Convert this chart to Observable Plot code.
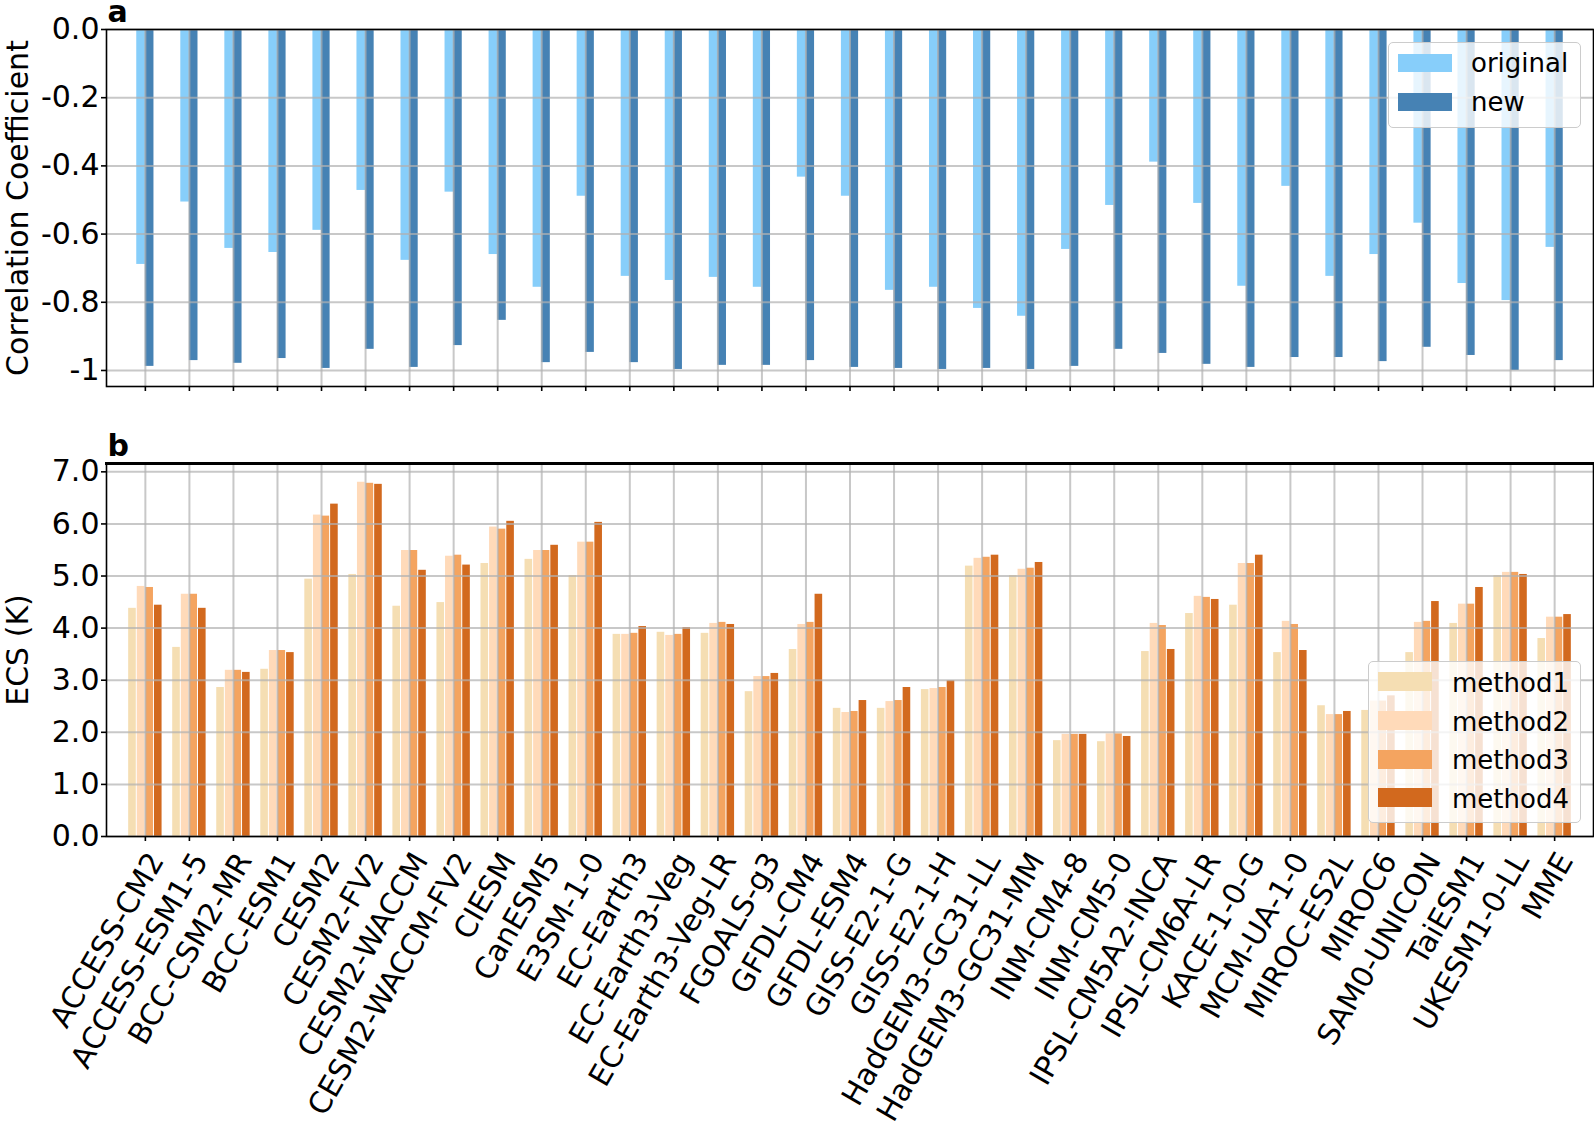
<!DOCTYPE html>
<html>
<head>
<meta charset="utf-8">
<script src="https://cdn.jsdelivr.net/npm/d3@7"></script>
<script src="https://cdn.jsdelivr.net/npm/@observablehq/plot@0.6"></script>
<style>
  html, body { margin: 0; padding: 0; background: #ffffff; }
  #wrap { position: relative; width: 1594px; height: 1128px; overflow: hidden; font-family: "DejaVu Sans", sans-serif; }
  #wrap svg { position: absolute; left: 0; }
  .legend { position: absolute; background: rgba(255,255,255,0.8); border: 1.5px solid #cccccc; border-radius: 5px; box-sizing: border-box; }
  .sw { position: absolute; }
  .lt { position: absolute; font-size: 26px; line-height: 26px; color: #000; white-space: nowrap; }
</style>
</head>
<body>
<div id="wrap"></div>
<script>
// ---------- data ----------
const models = ["ACCESS-CM2","ACCESS-ESM1-5","BCC-CSM2-MR","BCC-ESM1","CESM2","CESM2-FV2","CESM2-WACCM","CESM2-WACCM-FV2","CIESM","CanESM5","E3SM-1-0","EC-Earth3","EC-Earth3-Veg","EC-Earth3-Veg-LR","FGOALS-g3","GFDL-CM4","GFDL-ESM4","GISS-E2-1-G","GISS-E2-1-H","HadGEM3-GC31-LL","HadGEM3-GC31-MM","INM-CM4-8","INM-CM5-0","IPSL-CM5A2-INCA","IPSL-CM6A-LR","KACE-1-0-G","MCM-UA-1-0","MIROC-ES2L","MIROC6","SAM0-UNICON","TaiESM1","UKESM1-0-LL","MME"];

const corrOriginal = [-0.689,-0.506,-0.642,-0.654,-0.589,-0.472,-0.677,-0.477,-0.660,-0.756,-0.489,-0.724,-0.736,-0.727,-0.756,-0.433,-0.489,-0.765,-0.756,-0.818,-0.841,-0.645,-0.516,-0.389,-0.510,-0.753,-0.460,-0.724,-0.660,-0.568,-0.745,-0.795,-0.639];
const corrNew = [-0.988,-0.971,-0.979,-0.965,-0.994,-0.938,-0.991,-0.927,-0.853,-0.977,-0.947,-0.977,-0.997,-0.985,-0.985,-0.971,-0.991,-0.994,-0.997,-0.994,-0.997,-0.988,-0.938,-0.950,-0.982,-0.991,-0.962,-0.962,-0.974,-0.932,-0.956,-1.000,-0.971];

const ecsMethod1 = [4.38,3.63,2.86,3.21,4.94,5.03,4.42,4.49,5.24,5.32,5.01,3.88,3.92,3.90,2.78,3.59,2.46,2.46,2.82,5.19,5.01,1.84,1.82,3.55,4.28,4.44,3.53,2.51,2.42,3.53,4.09,5.01,3.80];
const ecsMethod2 = [4.80,4.65,3.19,3.57,6.17,6.80,5.49,5.38,5.94,5.49,5.65,3.88,3.86,4.09,3.07,4.07,2.38,2.59,2.84,5.34,5.13,1.96,1.97,4.09,4.61,5.24,4.13,2.34,2.60,4.11,4.46,5.07,4.21];
const ecsMethod3 = [4.78,4.65,3.19,3.57,6.15,6.78,5.49,5.40,5.90,5.49,5.65,3.90,3.88,4.11,3.07,4.11,2.40,2.61,2.86,5.36,5.15,1.96,1.97,4.05,4.59,5.24,4.07,2.34,2.60,4.13,4.46,5.07,4.21];
const ecsMethod4 = [4.44,4.38,3.15,3.53,6.38,6.76,5.11,5.21,6.05,5.59,6.03,4.03,4.01,4.07,3.13,4.65,2.61,2.86,2.99,5.40,5.26,1.96,1.92,3.59,4.55,5.40,3.57,2.40,2.70,4.51,4.78,5.03,4.26];

const seriesA = ["original","new"];
const colorsA = ["#87CEFA","#4682B4"];
const methods = ["method1","method2","method3","method4"];
const colorsB = ["#F5DEB3","#FFDAB9","#F4A460","#D2691E"];

const yTicksA = [0,-0.2,-0.4,-0.6,-0.8,-1];
const yTickLabelsA = ["0.0","-0.2","-0.4","-0.6","-0.8","-1"];
const yTicksB = [0,1,2,3,4,5,6,7];
const yTickLabelsB = ["0.0","1.0","2.0","3.0","4.0","5.0","6.0","7.0"];

const panelLabels = ["a","b"];
const yLabelA = "Correlation Coefficient";
const yLabelB = "ECS (K)";

// ---------- tables ----------
const rowsA = models.map((m,i) => ({model: m, original: corrOriginal[i], new: corrNew[i]}));
const ecsAll = [ecsMethod1, ecsMethod2, ecsMethod3, ecsMethod4];
const rowsB = models.map((m,i) => {
  const r = {model: m};
  methods.forEach((k,j) => r[k] = ecsAll[j][i]);
  return r;
});

// ---------- layout ----------
const W = 1594;
const FONT = '"DejaVu Sans", sans-serif';
const bw = 8.6;
const gridStyle = {stroke: "#b0b0b0", strokeOpacity: 0.7, strokeWidth: 2};
const wrap = document.getElementById("wrap");

const plotA = Plot.plot({
  width: W, height: 420,
  marginLeft: 106, marginRight: 1, marginTop: 29, marginBottom: 34,
  style: {fontFamily: FONT, fontSize: "30px", background: "transparent", color: "black", overflow: "visible"},
  x: {type: "band", domain: models, paddingInner: 0.6094, paddingOuter: 0.687, round: false, axis: null, label: null},
  y: {domain: [-1.047, 0], axis: null, label: null},
  marks: [
    Plot.barY(rowsA, {x: "model", y: "original", fill: colorsA[0], insetLeft: 0, insetRight: bw}),
    Plot.barY(rowsA, {x: "model", y: "new", fill: colorsA[1], insetLeft: bw, insetRight: 0}),
    Plot.ruleY(yTicksA, gridStyle),
    Plot.ruleX(models, gridStyle),
    Plot.axisX({tickSize: 5, strokeWidth: 1.6, tickFormat: () => "", label: null}),
    Plot.axisY({ticks: yTicksA, tickSize: 5, tickPadding: 2, strokeWidth: 1.6, fontSize: 30, label: null,
      tickFormat: d => yTickLabelsA[yTicksA.indexOf(d)]}),
    Plot.frame({stroke: "black", strokeWidth: 1.6}),
    Plot.text([yLabelA], {text: d => d, frameAnchor: "left", rotate: -90, dx: -79, lineAnchor: "bottom", textAnchor: "middle", fontSize: 30}),
    Plot.text([panelLabels[0]], {text: d => d, frameAnchor: "top-left", dx: 1, dy: -8, lineAnchor: "bottom", textAnchor: "start", fontSize: 30, fontWeight: "bold"})
  ]
});
plotA.style.top = "0px";
wrap.appendChild(plotA);

const plotB = Plot.plot({
  width: W, height: 708,
  marginLeft: 106, marginRight: 1, marginTop: 43, marginBottom: 292,
  style: {fontFamily: FONT, fontSize: "30px", background: "transparent", color: "black", overflow: "visible"},
  x: {type: "band", domain: models, paddingInner: 0.2189, paddingOuter: 0.492, round: false, axis: null, label: null},
  y: {domain: [0, 7.16], axis: null, label: null},
  marks: [
    ...methods.map((k, j) => Plot.barY(rowsB, {x: "model", y: k, fill: colorsB[j],
      insetLeft: j * bw + 0.5, insetRight: (3 - j) * bw + 0.5})),
    Plot.ruleY(yTicksB, gridStyle),
    Plot.ruleX(models, gridStyle),
    Plot.axisX({tickSize: 5, strokeWidth: 1.6, tickFormat: () => "", label: null}),
    Plot.axisX({tickSize: 0, tickRotate: -60, textAnchor: "end", lineAnchor: "middle", tickPadding: 19, dx: 11, fontSize: 30, label: null}),
    Plot.axisY({ticks: yTicksB, tickSize: 5, tickPadding: 2, strokeWidth: 1.6, fontSize: 30, label: null,
      tickFormat: d => yTickLabelsB[yTicksB.indexOf(d)]}),
    Plot.frame({stroke: "black", strokeWidth: 1.6}),
    Plot.frame({anchor: "top", stroke: "black", strokeWidth: 3}),
    Plot.text([yLabelB], {text: d => d, frameAnchor: "left", rotate: -90, dx: -79, lineAnchor: "bottom", textAnchor: "middle", fontSize: 30}),
    Plot.text([panelLabels[1]], {text: d => d, frameAnchor: "top-left", dx: 1, dy: -8, lineAnchor: "bottom", textAnchor: "start", fontSize: 30, fontWeight: "bold"})
  ]
});
plotB.style.top = "420px";
wrap.appendChild(plotB);

// ---------- legends ----------
function makeLegend(names, colors, box, sw, rowTops, textLeft, textTops) {
  const lg = document.createElement("div");
  lg.className = "legend";
  Object.assign(lg.style, {left: box.left + "px", top: box.top + "px", width: box.width + "px", height: box.height + "px"});
  names.forEach((n, i) => {
    const s = document.createElement("div");
    s.className = "sw";
    Object.assign(s.style, {left: sw.left + "px", top: rowTops[i] + "px", width: sw.width + "px", height: sw.height + "px", background: colors[i]});
    lg.appendChild(s);
    const t = document.createElement("div");
    t.className = "lt";
    t.textContent = n;
    Object.assign(t.style, {left: textLeft + "px", top: textTops[i] + "px"});
    lg.appendChild(t);
  });
  wrap.appendChild(lg);
}
makeLegend(seriesA, colorsA, {left: 1388, top: 42, width: 193, height: 86},
  {left: 9, width: 54, height: 18}, [11, 50], 82, [7, 46]);
makeLegend(methods, colorsB, {left: 1368, top: 661, width: 213, height: 162},
  {left: 9, width: 54, height: 19}, [10, 49, 88, 126], 83, [8, 47, 85, 124]);
</script>
</body>
</html>
